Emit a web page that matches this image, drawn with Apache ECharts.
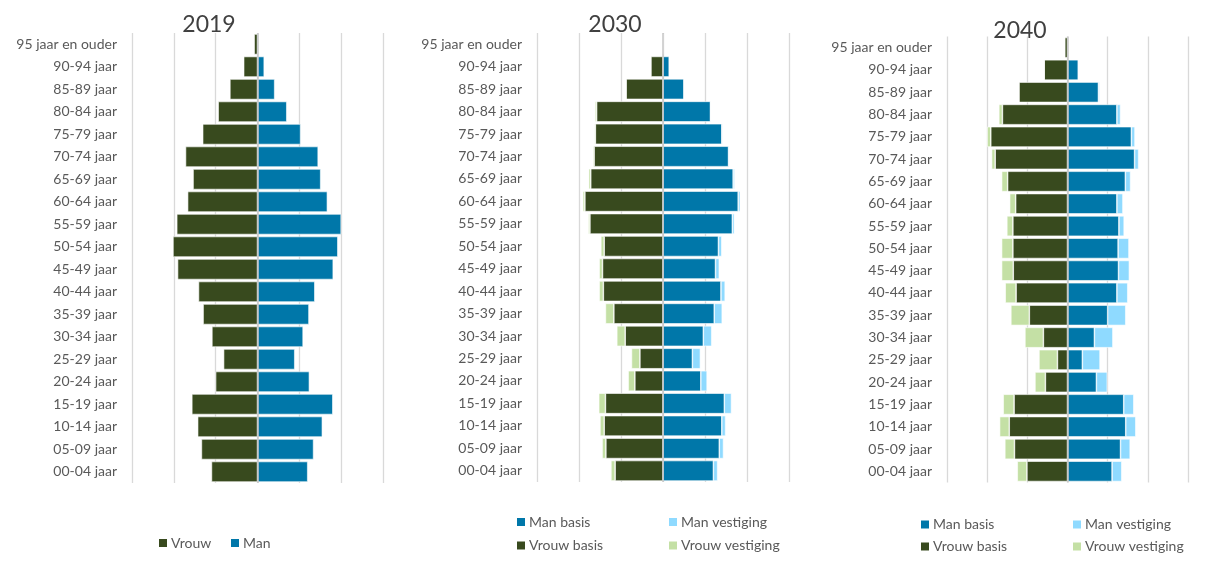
<!DOCTYPE html>
<html>
<head>
<meta charset="utf-8">
<script src="https://cdn.jsdelivr.net/npm/echarts@6/dist/echarts.min.js"></script>
<style>html,body{margin:0;padding:0;background:#fff;}#c{width:1216px;height:570px;}</style>
</head>
<body>
<div id="c"></div>
<script>
const categories = ['95 jaar en ouder','90-94 jaar','85-89 jaar','80-84 jaar','75-79 jaar','70-74 jaar','65-69 jaar','60-64 jaar','55-59 jaar','50-54 jaar','45-49 jaar','40-44 jaar','35-39 jaar','30-34 jaar','25-29 jaar','20-24 jaar','15-19 jaar','10-14 jaar','05-09 jaar','00-04 jaar'];
const titles = ['2019','2030','2040'];

// 2019 (relative units, one gridline step = 1)
const vrouw2019 = [0.08,0.33,0.66,0.94,1.31,1.72,1.54,1.67,1.93,2.02,1.91,1.41,1.30,1.09,0.81,1.00,1.57,1.43,1.34,1.10];
const man2019   = [0.02,0.16,0.41,0.70,1.03,1.45,1.51,1.67,2.00,1.92,1.81,1.37,1.23,1.09,0.89,1.24,1.80,1.55,1.34,1.20];

// 2030
const vrouwBasis2030 = [0.01,0.29,0.88,1.58,1.61,1.64,1.72,1.86,1.74,1.40,1.44,1.42,1.17,0.90,0.55,0.67,1.37,1.40,1.36,1.14];
const vrouwVest2030  = [0.01,0,0,0.04,0.02,0.03,0.05,0.05,0.04,0.08,0.08,0.10,0.20,0.20,0.20,0.16,0.16,0.10,0.09,0.10];
const manBasis2030   = [0,0.15,0.50,1.13,1.40,1.56,1.67,1.79,1.65,1.32,1.25,1.38,1.22,0.96,0.70,0.90,1.46,1.40,1.34,1.20];
const manVest2030    = [0,0,0,0.01,0.02,0.02,0.04,0.05,0.05,0.08,0.09,0.10,0.19,0.20,0.19,0.15,0.17,0.09,0.10,0.10];

// 2040
const vrouwBasis2040 = [0.07,0.58,1.21,1.62,1.91,1.80,1.49,1.29,1.36,1.36,1.35,1.28,0.95,0.60,0.25,0.55,1.33,1.45,1.32,1.01];
const vrouwVest2040  = [0,0,0,0.09,0.09,0.09,0.15,0.15,0.15,0.28,0.29,0.27,0.46,0.46,0.46,0.26,0.27,0.24,0.24,0.24];
const manBasis2040   = [0.02,0.27,0.77,1.23,1.59,1.67,1.44,1.23,1.28,1.26,1.27,1.23,1.00,0.67,0.37,0.72,1.40,1.45,1.32,1.11];
const manVest2040    = [0,0,0.03,0.09,0.09,0.10,0.13,0.15,0.13,0.27,0.27,0.27,0.45,0.46,0.44,0.27,0.25,0.25,0.24,0.24];

const C = { vrouw:'#384a1e', man:'#0077a9', manV:'#8fdaff', vrouwV:'#c4e0a5', grid:'#d9d9d9', text:'#595959' };
const FONT = 'Lato, "Open Sans", sans-serif';

const neg = a => a.map(v => -v);

const grids = [
  {left:132, top:33, width:251, height:450},
  {left:537, top:33, width:252, height:449},
  {left:947, top:36.5, width:241, height:446}
];

const xAxes = grids.map((g,i) => ({
  type:'value', gridIndex:i, min:-3, max:3, interval:1,
  axisLabel:{show:false}, axisLine:{show:false}, axisTick:{show:false},
  splitLine:{show:true, lineStyle:{color:C.grid, width:1.3}}
}));
const yAxes = grids.map((g,i) => ({
  type:'category', gridIndex:i, data:categories, inverse:true,
  axisLine:{show:false, onZero:false}, axisTick:{show:false},
  axisLabel:{color:C.text, fontFamily:FONT, fontSize:14, margin:15}
}));

const centerLine = {
  silent:true, symbol:'none', label:{show:false},
  lineStyle:{color:'#c6c6c6', width:1.5, type:'solid'},
  data:[{xAxis:0}], animation:false
};

function bar(name, data, color, idx, stack, extra) {
  return Object.assign({
    name, type:'bar', data, xAxisIndex:idx, yAxisIndex:idx, stack,
    barCategoryGap:'9%',
    itemStyle:{color, borderColor:'#ffffff', borderWidth:0.6},
    emphasis:{disabled:true}
  }, extra || {});
}

const series = [
  bar('Vrouw', neg(vrouw2019), C.vrouw, 0, 's0'),
  bar('Man', man2019, C.man, 0, 's0', {markLine:centerLine}),
  bar('Man basis', manBasis2030, C.man, 1, 's1'),
  bar('Man vestiging', manVest2030, C.manV, 1, 's1'),
  bar('Vrouw basis', neg(vrouwBasis2030), C.vrouw, 1, 's1'),
  bar('Vrouw vestiging', neg(vrouwVest2030), C.vrouwV, 1, 's1', {markLine:centerLine}),
  bar('Man basis', manBasis2040, C.man, 2, 's2'),
  bar('Man vestiging', manVest2040, C.manV, 2, 's2'),
  bar('Vrouw basis', neg(vrouwBasis2040), C.vrouw, 2, 's2'),
  bar('Vrouw vestiging', neg(vrouwVest2040), C.vrouwV, 2, 's2', {markLine:centerLine})
];

function leg(name, left, cy) {
  return {
    data:[name], left, top:cy-8, padding:0, itemWidth:10, itemHeight:10, itemGap:0,
    icon:'rect', selectedMode:false,
    textStyle:{color:C.text, fontFamily:FONT, fontSize:14, padding:[0,0,0,-2]}
  };
}

const legends = [
  leg('Vrouw', 157, 544), leg('Man', 229, 544),
  leg('Man basis', 515, 523), leg('Man vestiging', 667, 523),
  leg('Vrouw basis', 515, 546.5), leg('Vrouw vestiging', 667, 546.5),
  leg('Man basis', 919, 525.5), leg('Man vestiging', 1071, 525.5),
  leg('Vrouw basis', 919, 547.5), leg('Vrouw vestiging', 1071, 547.5)
];

const titlePos = [[209,25],[615,25],[1020,31]];
const graphics = titles.map((t,i) => ({
  type:'text', x:titlePos[i][0], y:titlePos[i][1], silent:true,
  style:{text:t, fill:'#404040', font:'23px ' + FONT, textAlign:'center', textVerticalAlign:'middle'}
}));

const chart = echarts.init(document.getElementById('c'), null, {renderer:'canvas'});
chart.setOption({
  backgroundColor:'#ffffff',
  animation:false,
  grid:grids,
  xAxis:xAxes,
  yAxis:yAxes,
  legend:legends,
  graphic:graphics,
  series
});
</script>
</body>
</html>
